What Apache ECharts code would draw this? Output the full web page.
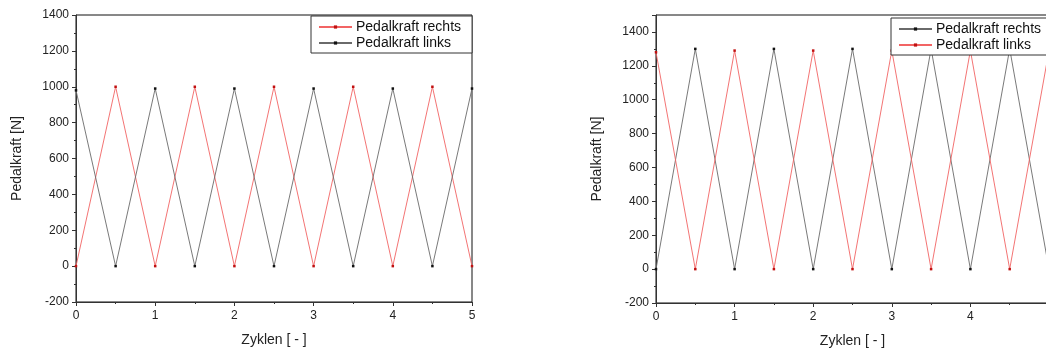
<!DOCTYPE html>
<html>
<head>
<meta charset="utf-8">
<script src="https://cdn.jsdelivr.net/npm/echarts@6/dist/echarts.min.js"></script>
<style>
  html, body { margin: 0; padding: 0; background: #fff; overflow: hidden; }
  #wrap { position: relative; width: 1046px; height: 352px; overflow: hidden; }
  #left { position: absolute; left: 0; top: 0; width: 523px; height: 352px; }
  #right { position: absolute; left: 523px; top: 0; width: 560px; height: 352px; }
</style>
</head>
<body>
<div id="wrap">
  <div id="left"></div>
  <div id="right"></div>
</div>
<script>
// Zyklen (x-Werte)
const cycles = [0, 0.5, 1, 1.5, 2, 2.5, 3, 3.5, 4, 4.5, 5];
// linkes Diagramm
const leftRechts = [0, 1000, 0, 1000, 0, 1000, 0, 1000, 0, 1000, 0];
const leftLinks = [980, 0, 990, 0, 990, 0, 990, 0, 990, 0, 990];
// rechtes Diagramm
const rightRechts = [0, 1300, 0, 1300, 0, 1300, 0, 1300, 0, 1300, 0];
const rightLinks = [1280, 0, 1290, 0, 1290, 0, 1290, 0, 1290, 0, 1290];

const RED = '#f26464';
const BLACK = '#6a6a6a';

const pairs = arr => cycles.map((c, i) => [c, arr[i]]);

const makeSeries = (name, data, color, dot) => ({
  name: name,
  type: 'line',
  data: pairs(data),
  symbol: 'rect',
  symbolSize: 2.5,
  showSymbol: true,
  silent: true,
  lineStyle: { color: color, width: 0.9 },
  itemStyle: { color: dot },
  animation: false
});

const makeOption = (gridLeft, gridWidth, gridHeight, yMax, legendLeft, legendTop, series) => ({
  backgroundColor: '#fff',
  textStyle: { fontFamily: 'Liberation Sans, Arial, sans-serif' },
  grid: {
    left: gridLeft,
    top: 15,
    width: gridWidth,
    height: gridHeight,
    outerBoundsMode: 'none',
    show: true,
    borderColor: '#111',
    borderWidth: 1,
    backgroundColor: 'transparent'
  },
  legend: {
    orient: 'vertical',
    left: legendLeft,
    top: legendTop,
    padding: [4, 11, 3, 7],
    itemGap: 2,
    itemWidth: 33,
    itemHeight: 4,
    borderColor: '#333',
    borderWidth: 1,
    backgroundColor: '#fff',
    selectedMode: false,
    textStyle: { fontSize: 14, color: '#111', padding: [0, 0, 0, -1] },
    data: series.map(s => s.name)
  },
  xAxis: {
    type: 'value',
    min: 0,
    max: 5,
    interval: 1,
    name: 'Zyklen [ - ]',
    nameLocation: 'middle',
    nameGap: 31,
    nameTextStyle: { fontSize: 14, color: '#222' },
    axisLine: { onZero: false, lineStyle: { color: '#333' } },
    axisTick: { inside: false, length: 4, lineStyle: { color: '#333' } },
    minorTick: { show: true, splitNumber: 2, length: 2, lineStyle: { color: '#333' } },
    axisLabel: { fontSize: 12, color: '#222', margin: 8 },
    splitLine: { show: false }
  },
  yAxis: {
    type: 'value',
    min: -200,
    max: yMax,
    interval: 200,
    name: 'Pedalkraft [N]',
    nameLocation: 'middle',
    nameGap: 52,
    nameTextStyle: { fontSize: 14, color: '#222' },
    axisLine: { show: true, onZero: false, lineStyle: { color: '#333' } },
    axisTick: { show: true, inside: false, length: 4, lineStyle: { color: '#333' } },
    minorTick: { show: true, splitNumber: 2, length: 2, lineStyle: { color: '#333' } },
    axisLabel: { fontSize: 12, color: '#222', margin: 7,
      formatter: v => String(v),
      showMaxLabel: yMax % 200 === 0 },
    splitLine: { show: false }
  },
  series: series
});

const leftChart = echarts.init(document.getElementById('left'));
leftChart.setOption(makeOption(76, 396, 287, 1400, 311, 16, [
  makeSeries('Pedalkraft rechts', leftRechts, RED, '#c01010'),
  makeSeries('Pedalkraft links', leftLinks, BLACK, '#111')
]));

const rightChart = echarts.init(document.getElementById('right'));
rightChart.setOption(makeOption(133, 393, 288, 1500, 368, 18, [
  makeSeries('Pedalkraft rechts', rightRechts, BLACK, '#111'),
  makeSeries('Pedalkraft links', rightLinks, RED, '#c01010')
]));
</script>
</body>
</html>
